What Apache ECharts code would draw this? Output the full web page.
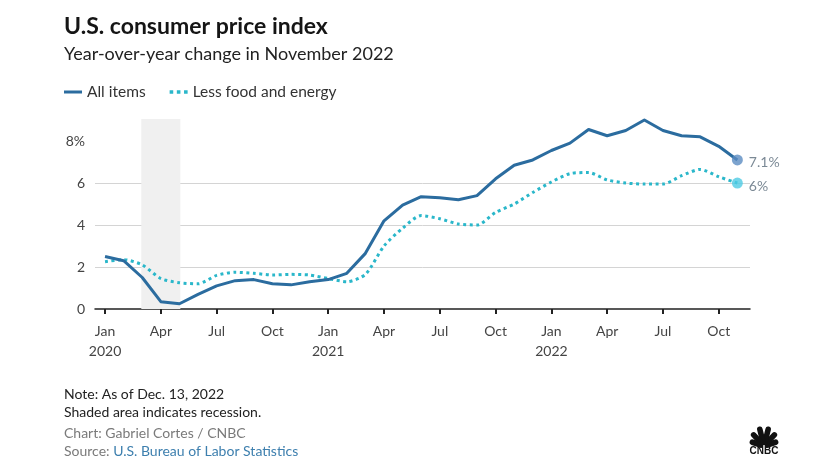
<!DOCTYPE html>
<html>
<head>
<meta charset="utf-8">
<script src="https://cdn.jsdelivr.net/npm/echarts@6/dist/echarts.min.js"></script>
<style>
html,body{margin:0;padding:0;background:#fff;}
#chart{width:815px;height:466px;}
</style>
</head>
<body>
<div id="chart"></div>
<script>
// ---- data ----
const months = [
  '2020-01','2020-02','2020-03','2020-04','2020-05','2020-06','2020-07','2020-08','2020-09','2020-10','2020-11','2020-12',
  '2021-01','2021-02','2021-03','2021-04','2021-05','2021-06','2021-07','2021-08','2021-09','2021-10','2021-11','2021-12',
  '2022-01','2022-02','2022-03','2022-04','2022-05','2022-06','2022-07','2022-08','2022-09','2022-10','2022-11'
];
const allItems = [
  2.5, 2.3, 1.5, 0.35, 0.25, 0.7, 1.1, 1.35, 1.4, 1.2, 1.15, 1.3,
  1.4, 1.7, 2.65, 4.2, 4.95, 5.35, 5.3, 5.2, 5.4, 6.2, 6.85, 7.1,
  7.55, 7.9, 8.55, 8.25, 8.5, 9.0, 8.5, 8.25, 8.2, 7.75, 7.1
];
const coreItems = [
  2.25, 2.35, 2.1, 1.45, 1.25, 1.2, 1.6, 1.75, 1.7, 1.62, 1.65, 1.62,
  1.45, 1.3, 1.65, 3.0, 3.85, 4.45, 4.3, 4.05, 4.0, 4.6, 5.0, 5.55,
  6.05, 6.45, 6.5, 6.15, 6.0, 5.95, 5.95, 6.35, 6.65, 6.3, 6.0
];
const tickMonths = ['2020-01','2020-04','2020-07','2020-10','2021-01','2021-04','2021-07','2021-10','2022-01','2022-04','2022-07','2022-10'];
const tickLabels = ['Jan\n2020','Apr','Jul','Oct','Jan\n2021','Apr','Jul','Oct','Jan\n2022','Apr','Jul','Oct'];
const yTicks = [0, 2, 4, 6, 8];
const yTickLabels = ['0', '2', '4', '6', '8%'];
const recession = [1.95, 4.05]; // month offsets from Jan 2020 (Feb-Apr 2020)
const seriesNames = ['All items', 'Less food and energy'];

// ---- styles ----
const C_ALL = '#2b6c9f';
const C_CORE = '#2ab7ca';
const FONT = 'Lato, "Open Sans", sans-serif';

const tickIdx = tickMonths.map(m => months.indexOf(m));
const last = months.length - 1;
const fmtPct = v => (+v.toFixed(1)) + '%';

function feather(angle, len) {
  return {
    type: 'group', x: 764, y: 446, rotation: angle * Math.PI / 180,
    children: [{ type: 'rect', shape: { x: -2.8, y: -len - 1, width: 5.6, height: len, r: [2.8, 2.8, 1.5, 1.5] }, style: { fill: '#111' } }]
  };
}

const chart = echarts.init(document.getElementById('chart'), null, { renderer: 'canvas' });
chart.setOption({
  backgroundColor: '#fff',
  animation: false,
  textStyle: { fontFamily: FONT },
  title: [
    { text: 'U.S. consumer price index', left: 59, top: 10,
      textStyle: { fontSize: 23, fontWeight: 'bold', color: '#151515', fontFamily: FONT } },
    { text: 'Year-over-year change in November 2022', left: 59, top: 40,
      textStyle: { fontSize: 18, fontWeight: 'normal', color: '#222', fontFamily: FONT } },
    { text: 'Note: As of Dec. 13, 2022\nShaded area indicates recession.', left: 59, top: 380,
      textStyle: { fontSize: 14, fontWeight: 'normal', color: '#222', lineHeight: 18, fontFamily: FONT } },
    { text: 'Chart: Gabriel Cortes / CNBC\n{g|Source: }{l|U.S. Bureau of Labor Statistics}', left: 59, top: 419,
      textStyle: { fontSize: 14, fontWeight: 'normal', color: '#7a7a7a', lineHeight: 18, fontFamily: FONT,
        rich: { g: { color: '#7a7a7a', fontSize: 14, fontFamily: FONT }, l: { color: '#3d7fae', fontSize: 14, fontFamily: FONT } } } }
  ],
  legend: {
    left: 59, top: 79, itemGap: 24, itemWidth: 18, itemHeight: 10, itemStyle: {},
    textStyle: { fontSize: 15.5, color: '#333', fontFamily: FONT },
    data: [
      { name: seriesNames[0], icon: 'path://M0,3.5h18v3h-18z', itemStyle: { color: C_ALL } },
      { name: seriesNames[1], icon: 'path://M0,3.5h3v3h-3z M6,3.5h3v3h-3z M12,3.5h3v3h-3z', itemStyle: { color: C_CORE } }
    ]
  },
  grid: { left: 95, right: 65, top: 119, bottom: 157, containLabel: false },
  xAxis: {
    type: 'value', min: -0.54, max: 34.68,
    splitLine: { show: false },
    axisLine: { show: true, lineStyle: { color: '#222', width: 1.5 } },
    axisTick: { show: true, customValues: tickIdx, length: 5, lineStyle: { color: '#222', width: 2 } },
    axisLabel: {
      customValues: tickIdx, margin: 12, fontSize: 14, lineHeight: 20, color: '#444', fontFamily: FONT,
      formatter: v => tickLabels[tickIdx.indexOf(Math.round(v))] || ''
    }
  },
  yAxis: {
    type: 'value', min: 0, max: 9.05,
    axisLine: { show: false },
    splitLine: { show: true, showMinLine: false, showMaxLine: false, lineStyle: { color: '#d4d4d4', width: 1 } },
    axisLabel: {
      customValues: yTicks, margin: 10, fontSize: 14, color: '#444', fontFamily: FONT,
      formatter: v => yTickLabels[yTicks.indexOf(v)]
    },
    axisTick: { show: false, customValues: yTicks }
  },
  series: [
    {
      name: seriesNames[0], type: 'line', data: allItems.map((v, i) => [i, v]),
      showSymbol: false, symbol: 'none', clip: false, z: 4,
      lineStyle: { color: C_ALL, width: 3, join: 'round' },
      itemStyle: { color: C_ALL },
      markArea: {
        silent: true, itemStyle: { color: '#f0f0f0' },
        data: [[{ xAxis: recession[0], yAxis: 0 }, { xAxis: recession[1], yAxis: 9.05 }]]
      }
    },
    {
      name: seriesNames[1], type: 'line', data: coreItems.map((v, i) => [i, v]),
      showSymbol: false, symbol: 'none', clip: false, smooth: 0.25, z: 3,
      lineStyle: { color: C_CORE, width: 3, type: [3, 3.5] },
      itemStyle: { color: C_CORE }
    },
    {
      type: 'scatter', z: 5, symbolSize: 11,
      data: [
        { value: [last, allItems[last]], itemStyle: { color: '#5b8cc2' } },
        { value: [last, coreItems[last]], itemStyle: { color: '#4ecbe4' } }
      ],
      label: {
        show: true, position: 'right', distance: 6, offset: [0, 3], fontSize: 14, color: '#5a6b7a', fontFamily: FONT,
        formatter: p => fmtPct(p.value[1])
      }
    }
  ],
  graphic: [
    feather(-72, 14), feather(-43, 17), feather(-14, 19), feather(14, 19), feather(43, 17), feather(72, 14),
    { type: 'text', x: 764, y: 451, style: { text: 'CNBC', fill: '#111', fontSize: 10, fontWeight: 900, fontFamily: 'Arial, "Liberation Sans", sans-serif', align: 'center', verticalAlign: 'middle' } }
  ]
});
</script>
</body>
</html>
